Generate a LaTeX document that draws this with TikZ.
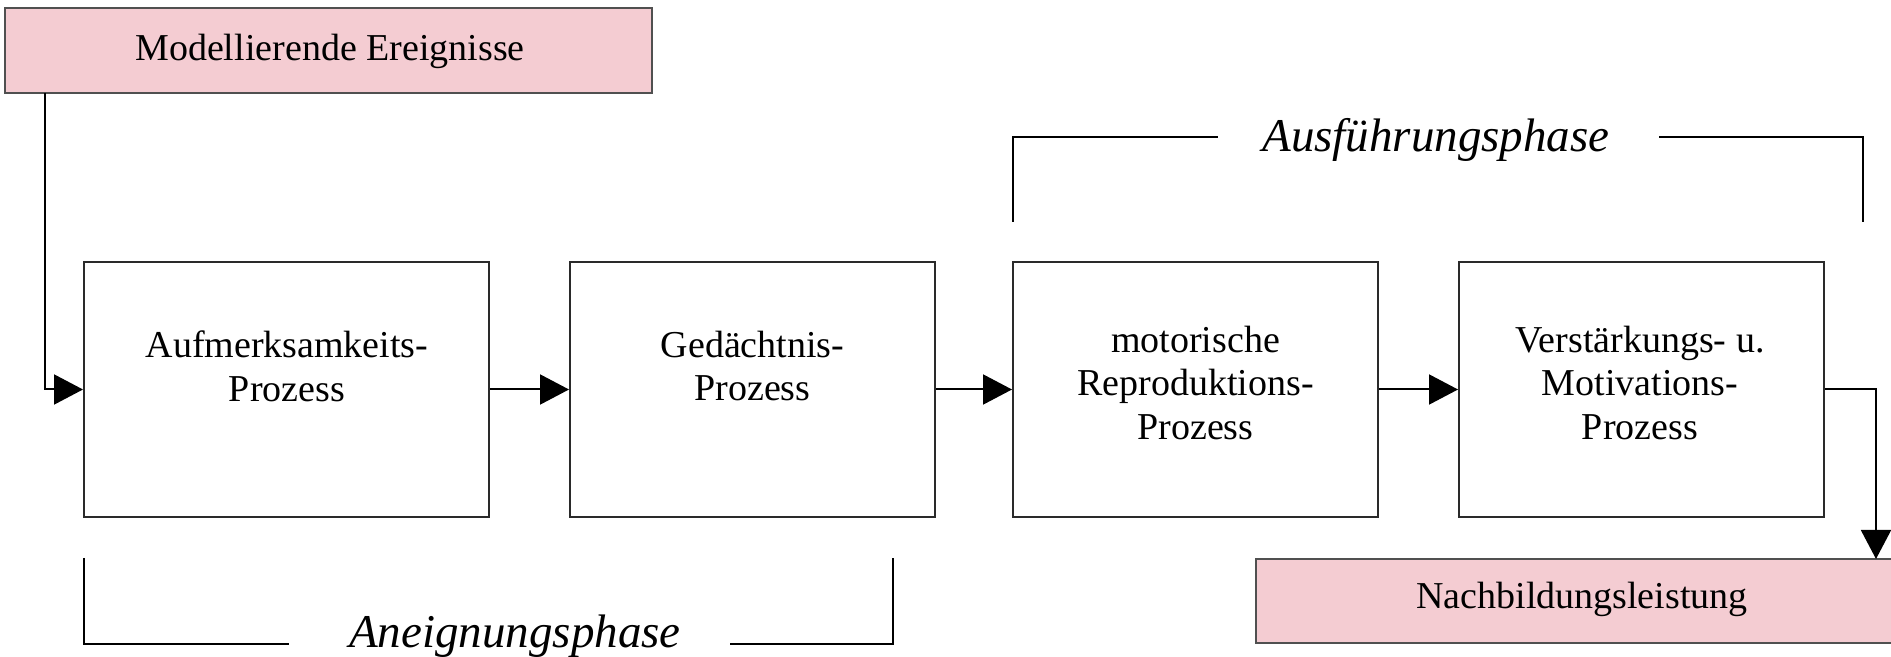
\documentclass[tikz,border=0pt]{standalone}
\usepackage{fontspec}
\setmainfont{Liberation Serif}
\usetikzlibrary{arrows.meta}
\definecolor{pinkfill}{HTML}{F4CCD2}
\definecolor{pinkline}{HTML}{505050}
\definecolor{boxline}{HTML}{2A2A2A}
\begin{document}
\begin{tikzpicture}[x=0.5pt,y=-0.5pt,
  txt/.style={font=\fontsize{19pt}{21.75pt}\selectfont, inner sep=0pt},
  mltxt/.style={txt, align=center, anchor=north, yshift=12.7pt},
  phase/.style={font=\fontsize{23.5pt}{27pt}\selectfont\itshape, inner sep=0pt, anchor=base},
  procbox/.style={draw=boxline, line width=1pt, minimum height=127.5pt, inner sep=0pt},
  pinkbox/.style={draw=pinkline, fill=pinkfill, line width=1.3pt, inner sep=0pt},
  arr/.style={draw=black, line width=1pt, -{Triangle[length=14.5pt,width=15pt]}},
  brk/.style={draw=black, line width=1pt}]
\useasboundingbox (0,0) rectangle (1891,657);
\clip (0,0) rectangle (1891,657);
\fill[white] (0,0) rectangle (1891,657);

% pink boxes
\node[pinkbox, minimum width=323.5pt, minimum height=42.5pt] (top) at (328.5,50.5) {};
\node[txt, anchor=base] (toptxt) at (330,61) {Modellierende Ereignisse};
\node[pinkbox, minimum width=327pt, minimum height=42pt] (nb) at (1583,601) {};
\node[txt, anchor=base] (nbtxt) at (1582,609) {Nachbildungsleistung};

% process boxes
\node[procbox, minimum width=202.5pt] (b1) at (286.5,389.5) {};
\node[procbox, minimum width=182.5pt] (b2) at (752.5,389.5) {};
\node[procbox, minimum width=182.5pt] (b3) at (1195.5,389.5) {};
\node[procbox, minimum width=182.5pt] (b4) at (1641.5,389.5) {};

\node[mltxt] (b1t) at (287,356) {Aufmerksamkeits-\\Prozess};
\node[mltxt] (b2t) at (752.5,356) {Gedächtnis-\\Prozess};
\node[mltxt] (b3t) at (1195.5,351) {motorische\\Reproduktions-\\Prozess};
\node[mltxt] (b4t) at (1640,351) {Verstärkungs- u.\\Motivations-\\Prozess};

% connectors
\coordinate (topout) at (45,93);
\coordinate (nbin) at (1876,559);
\draw[arr] (topout) |- (b1.west);
\draw[arr] (b1.east) -- (b2.west);
\draw[arr] (b2.east) -- (b3.west);
\draw[arr] (b3.east) -- (b4.west);
\draw[arr] (b4.east) -| (nbin);

% phase brackets
\node[phase] (ausf) at (1436,152) {Ausführungsphase};
\draw[brk] (1013,222) -- (1013,137) -- (1218,137);
\draw[brk] (1659,137) -- (1863,137) -- (1863,222);
\node[phase] (aneig) at (515,647) {Aneignungsphase};
\draw[brk] (84,558) -- (84,644) -- (289,644);
\draw[brk] (730,644) -- (893,644) -- (893,558);
\end{tikzpicture}
\end{document}
